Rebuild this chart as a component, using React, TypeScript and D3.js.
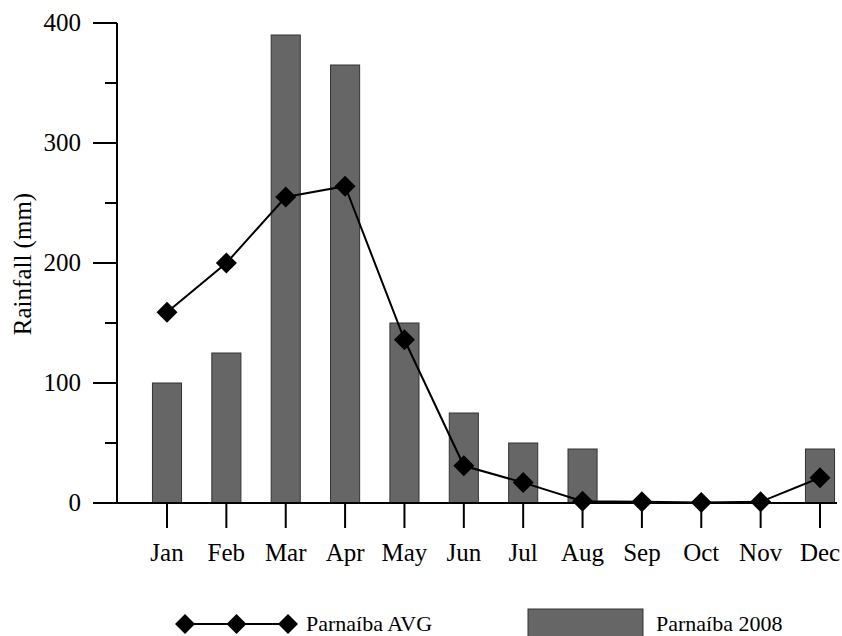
import React from "react";
import * as d3 from "d3";

const months = ["Jan","Feb","Mar","Apr","May","Jun","Jul","Aug","Sep","Oct","Nov","Dec"];
const rain2008 = [100,125,390,365,150,75,50,45,0,0,0,45];
const rainAvg = [159,200,255,264,136,31,17,1.5,1,0.5,1,21];
const majorTicks = [0,100,200,300,400];
const minorTicks = [50,150,250,350];

const W = 842, H = 636;
const FONT = "Liberation Serif, DejaVu Serif, serif";

export default function App() {
  const x = d3.scalePoint<string>().domain(months).range([167, 820]);
  const y = d3.scaleLinear().domain([0, 400]).range([503, 23]);
  const barW = x.step() * 0.49;
  const line = d3.line<number>().x((_, i) => x(months[i])!).y(d => y(d));
  const diamond = (cx: number, cy: number, r: number) =>
    `M${cx},${cy - r}L${cx + r},${cy}L${cx},${cy + r}L${cx - r},${cy}Z`;
  const ts = { fontFamily: FONT };

  return (
    <svg width={W} height={H} style={{ position: "absolute", left: 0, top: 0, background: "#fff", fontFamily: FONT }}>
      {/* bars */}
      {rain2008.map((v, i) => (
        <rect key={i} x={x(months[i])! - barW / 2} y={y(v)} width={barW} height={y(0) - y(v)}
          fill="#666666" stroke="#333" strokeWidth={1} />
      ))}
      {/* y axis */}
      <line x1={117} x2={117} y1={y(400)} y2={y(0)} stroke="#000" strokeWidth={2} />
      {majorTicks.map(t => (
        <g key={t}>
          <line x1={93} x2={117} y1={y(t)} y2={y(t)} stroke="#000" strokeWidth={2} />
          <text x={81} y={y(t)} dy="0.33em" textAnchor="end" fontSize={25} style={ts}>{t}</text>
        </g>
      ))}
      {minorTicks.map(t => (
        <line key={t} x1={105} x2={117} y1={y(t)} y2={y(t)} stroke="#000" strokeWidth={2} />
      ))}
      {/* x axis */}
      <line x1={93} x2={837} y1={y(0)} y2={y(0)} stroke="#000" strokeWidth={2} />
      {months.map(m => (
        <g key={m}>
          <line x1={x(m)!} x2={x(m)!} y1={y(0)} y2={y(0) + 25} stroke="#000" strokeWidth={2} />
          <text x={x(m)!} y={561} textAnchor="middle" fontSize={25} style={ts}>{m}</text>
        </g>
      ))}
      {/* axis title */}
      <text transform="translate(31,264) rotate(-90)" textAnchor="middle" fontSize={25} style={ts}>Rainfall (mm)</text>
      {/* avg line */}
      <path d={line(rainAvg)!} fill="none" stroke="#000" strokeWidth={2} />
      {rainAvg.map((v, i) => (
        <path key={i} d={diamond(x(months[i])!, y(v), 10.5)} fill="#000" />
      ))}
      {/* legend */}
      <line x1={185} x2={288} y1={624} y2={624} stroke="#000" strokeWidth={2} />
      {[185, 236.5, 288].map(cx => (
        <path key={cx} d={diamond(cx, 624, 10)} fill="#000" />
      ))}
      <text x={306} y={631} fontSize={22} style={ts}>Parnaíba AVG</text>
      <rect x={528} y={609} width={115} height={30} fill="#666666" stroke="#333" strokeWidth={1} />
      <text x={656} y={631} fontSize={22} style={ts}>Parnaíba 2008</text>
    </svg>
  );
}
